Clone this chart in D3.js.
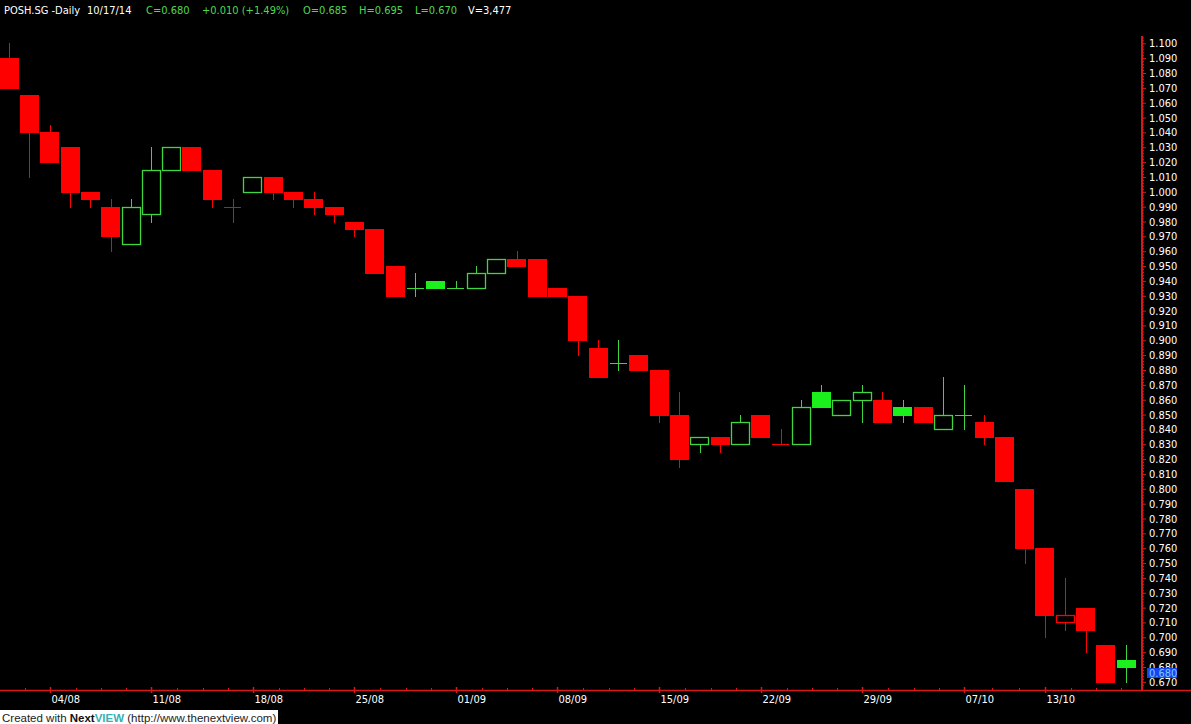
<!DOCTYPE html>
<html>
<head>
<meta charset="utf-8">
<script src="https://cdn.jsdelivr.net/npm/d3@7"></script>
<style>
  html, body { margin: 0; padding: 0; background: #000; overflow: hidden; }
  svg { display: block; }
  text { font-family: "DejaVu Sans Condensed", "DejaVu Sans", sans-serif; font-stretch: condensed; }
  text.foot { font-family: "Liberation Sans", Arial, sans-serif; font-stretch: normal; }
</style>
</head>
<body>
<svg width="1191" height="724"></svg>
<script>
// daily candles POSH.SG, 31/07 - 17/10
var dates = ['31/07','01/08','04/08','05/08','06/08','07/08','08/08',
  '11/08','12/08','13/08','14/08','15/08','18/08','19/08','20/08','21/08','22/08',
  '25/08','26/08','27/08','28/08','29/08','01/09','02/09','03/09','04/09','05/09',
  '08/09','09/09','10/09','11/09','12/09','15/09','16/09','17/09','18/09','19/09',
  '22/09','23/09','24/09','25/09','26/09','29/09','30/09','01/10','02/10','03/10',
  '07/10','08/10','09/10','10/10','13/10','14/10','15/10','16/10','17/10'];

var opens = [1.090,1.065,1.040,1.030,1.000,0.990,0.965,
  0.985,1.015,1.030,1.015,0.990,1.000,1.010,1.000,0.995,0.990,
  0.980,0.975,0.950,0.935,0.940,0.935,0.935,0.945,0.955,0.955,
  0.935,0.930,0.895,0.885,0.890,0.880,0.850,0.830,0.835,0.830,
  0.850,0.830,0.830,0.865,0.850,0.860,0.860,0.855,0.855,0.840,
  0.850,0.845,0.835,0.800,0.760,0.710,0.720,0.695,0.685];

var highs = [1.100,1.065,1.045,1.030,1.000,0.995,0.995,
  1.030,1.030,1.030,1.015,0.995,1.010,1.010,1.000,1.000,0.990,
  0.980,0.975,0.950,0.945,0.940,0.940,0.950,0.955,0.960,0.955,
  0.935,0.930,0.900,0.900,0.890,0.880,0.865,0.835,0.835,0.850,
  0.850,0.840,0.860,0.870,0.860,0.870,0.865,0.860,0.855,0.875,
  0.870,0.850,0.835,0.800,0.760,0.740,0.720,0.695,0.695];

var lows = [1.070,1.010,1.020,0.990,0.990,0.960,0.965,
  0.980,1.015,1.015,0.990,0.980,1.000,0.995,0.990,0.985,0.980,
  0.970,0.945,0.930,0.930,0.935,0.935,0.935,0.945,0.950,0.930,
  0.930,0.890,0.875,0.880,0.880,0.845,0.815,0.825,0.825,0.830,
  0.835,0.830,0.830,0.855,0.850,0.845,0.845,0.845,0.845,0.840,
  0.840,0.830,0.805,0.750,0.700,0.705,0.690,0.670,0.670];

var closes = [1.070,1.040,1.020,1.000,0.995,0.970,0.990,
  1.015,1.030,1.015,0.995,0.990,1.010,1.000,0.995,0.990,0.985,
  0.975,0.945,0.930,0.935,0.935,0.935,0.945,0.955,0.950,0.930,
  0.930,0.900,0.875,0.885,0.880,0.850,0.820,0.835,0.830,0.845,
  0.835,0.830,0.855,0.855,0.860,0.865,0.845,0.850,0.845,0.850,
  0.850,0.835,0.805,0.760,0.715,0.715,0.705,0.670,0.680];

var xTickLabels = ['04/08','11/08','18/08','25/08','01/09','08/09','15/09',
  '22/09','29/09','07/10','13/10'];

var yTicks = [1.100,1.090,1.080,1.070,1.060,1.050,1.040,1.030,1.020,1.010,1.000,
  0.990,0.980,0.970,0.960,0.950,0.940,0.930,0.920,0.910,0.900,
  0.890,0.880,0.870,0.860,0.850,0.840,0.830,0.820,0.810,0.800,
  0.790,0.780,0.770,0.760,0.750,0.740,0.730,0.720,0.710,0.700,
  0.690,0.680,0.670];

var headerParts = ['POSH.SG -Daily','10/17/14','C=0.680','+0.010 (+1.49%)',
  'O=0.685','H=0.695','L=0.670','V=3,477'];
var lastPrice = 0.680;

var RED = '#ff0000', GREEN_FILL = '#1cf01c', GREEN_LINE = '#3fd63f',
    AXIS = '#d81818';

var svg = d3.select('svg');

// candle colour: up vs previous close, same colour as before when unchanged
var candles = dates.map(function(d, i) {
  return {date: d, o: opens[i], h: highs[i], l: lows[i], c: closes[i]};
});
candles.forEach(function(d, i) {
  if (i === 0) d.up = false;
  else if (d.c > candles[i - 1].c) d.up = true;
  else if (d.c < candles[i - 1].c) d.up = false;
  else d.up = candles[i - 1].up;
});

var x = d3.scaleBand().domain(dates).range([-1.05, 1136.3])
    .paddingInner(0.07).paddingOuter(0.035);
var y = d3.scaleLinear().domain([0.67, 1.10]).range([681.85, 43.3]);

function cx(d) { return Math.round(x(d) + x.bandwidth() / 2) + 0.5; }

// x axis
var xAxisY = 690;
svg.append('line')
    .attr('x1', 0).attr('x2', 1191)
    .attr('y1', xAxisY + 0.5).attr('y2', xAxisY + 0.5)
    .attr('stroke', AXIS).attr('stroke-width', 1.5);

// minor ticks: quarter steps between the week ticks
var majorX = xTickLabels.map(function(d) { return cx(d); });
var minorX = [];
var q = (majorX[1] - majorX[0]) / 4;
for (var m = majorX[0] - q; m > 0; m -= q) minorX.push(m);
for (var k = 0; k < majorX.length - 1; k++) {
  var n = Math.round((majorX[k + 1] - majorX[k]) / q);
  for (var j = 1; j < n; j++) minorX.push(majorX[k] + (majorX[k + 1] - majorX[k]) * j / n);
}
for (var m2 = majorX[majorX.length - 1] + q; m2 < 1140; m2 += q) minorX.push(m2);

svg.append('g').selectAll('line')
  .data(minorX)
  .enter().append('line')
    .attr('x1', function(d) { return Math.round(d) + 0.5; })
    .attr('x2', function(d) { return Math.round(d) + 0.5; })
    .attr('y1', xAxisY - 2).attr('y2', xAxisY + 1)
    .attr('stroke', AXIS);

var gx = svg.append('g')
    .attr('transform', 'translate(0,' + xAxisY + ')')
    .call(d3.axisBottom(x).tickValues(xTickLabels).tickSize(3).tickPadding(2));
gx.select('.domain').remove();
gx.selectAll('.tick')
    .attr('transform', function(d) { return 'translate(' + cx(d) + ',0)'; });
gx.selectAll('.tick line').attr('stroke', AXIS).attr('y1', -3).attr('stroke-width', 1.5);
gx.selectAll('.tick text')
    .attr('fill', '#fff').attr('text-anchor', 'start').attr('x', 1)
    .style('font-family', null).style('font-size', '11px');

// y axis
var yAxisX = 1142;
svg.append('line')
    .attr('x1', yAxisX).attr('x2', yAxisX)
    .attr('y1', 36).attr('y2', xAxisY)
    .attr('stroke', AXIS).attr('stroke-width', 2);

var gyMinor = svg.append('g')
    .attr('transform', 'translate(' + yAxisX + ',0)')
    .call(d3.axisRight(y).tickValues(d3.range(0.668, 1.105, 0.002)).tickSize(2).tickFormat(''));
gyMinor.select('.domain').remove();
gyMinor.selectAll('.tick line').attr('stroke', AXIS);

var gy = svg.append('g')
    .attr('transform', 'translate(' + yAxisX + ',0)')
    .call(d3.axisRight(y).tickValues(yTicks).tickSize(4).tickPadding(3).tickFormat(d3.format('.3f')));
gy.select('.domain').remove();
gy.selectAll('.tick line').attr('stroke', AXIS);
gy.selectAll('.tick text').attr('fill', '#fff').style('font-size', '11px');
svg.selectAll('.tick text').attr('font-family', null);

// last price marker
var lp = svg.append('g').attr('transform', 'translate(1147,' + Math.round(y(lastPrice) + 1) + ')');
lp.append('rect').attr('width', 30).attr('height', 10).attr('fill', '#1446f0');
lp.append('text').attr('x', 2).attr('y', 5).attr('dy', '0.36em')
    .attr('fill', '#7cc8ff').style('font-size', '11px')
    .text(d3.format('.3f')(lastPrice));

// candles
var g = svg.append('g').attr('class', 'candles');

g.selectAll('.wick')
  .data(candles)
  .enter().append('line')
    .attr('class', 'wick')
    .attr('x1', function(d) { return cx(d.date); })
    .attr('x2', function(d) { return cx(d.date); })
    .attr('y1', function(d) { return Math.round(y(d.h)); })
    .attr('y2', function(d) { return Math.round(y(d.l)) + 1; })
    .attr('stroke', function(d) { return d.up ? GREEN_LINE : RED; });

// open == close: flat line
g.selectAll('.doji')
  .data(candles.filter(function(d) { return d.o === d.c; }))
  .enter().append('line')
    .attr('class', 'doji')
    .attr('x1', function(d) { return Math.round(x(d.date)) + 1; })
    .attr('x2', function(d) { return Math.round(x(d.date) + x.bandwidth()) - 1; })
    .attr('y1', function(d) { return Math.round(y(d.c)) + 0.5; })
    .attr('y2', function(d) { return Math.round(y(d.c)) + 0.5; })
    .attr('stroke', function(d) { return d.up ? GREEN_LINE : RED; });

// close < open: filled body
g.selectAll('.solid')
  .data(candles.filter(function(d) { return d.c < d.o; }))
  .enter().append('rect')
    .attr('class', 'solid')
    .attr('x', function(d) { return Math.round(x(d.date)); })
    .attr('y', function(d) { return Math.round(y(d.o)); })
    .attr('width', Math.round(x.bandwidth()))
    .attr('height', function(d) { return Math.round(y(d.c)) - Math.round(y(d.o)) + 1; })
    .attr('fill', function(d) { return d.up ? GREEN_FILL : RED; })
    .attr('shape-rendering', 'crispEdges');

// close > open: hollow body
g.selectAll('.hollow')
  .data(candles.filter(function(d) { return d.c > d.o; }))
  .enter().append('rect')
    .attr('class', 'hollow')
    .attr('x', function(d) { return Math.round(x(d.date)) + 0.5; })
    .attr('y', function(d) { return Math.round(y(d.c)) + 0.5; })
    .attr('width', Math.round(x.bandwidth()) - 1)
    .attr('height', function(d) { return Math.round(y(d.o)) - Math.round(y(d.c)); })
    .attr('fill', '#000')
    .attr('stroke', function(d) { return d.up ? GREEN_LINE : RED; })
    .attr('stroke-width', 1.3);

// header line
var headerX = [4, 87, 146, 202, 303, 359, 415, 468];
var headerColor = ['#fff', '#fff', '#4fd84f', '#4fd84f', '#4fd84f', '#4fd84f', '#4fd84f', '#fff'];
svg.append('g').selectAll('text')
  .data(headerParts)
  .enter().append('text')
    .attr('x', function(d, i) { return headerX[i]; })
    .attr('y', 14)
    .attr('fill', function(d, i) { return headerColor[i]; })
    .style('font-size', '11px')
    .text(function(d) { return d; });

// footer
var foot = svg.append('g').attr('transform', 'translate(0,710)');
foot.append('rect').attr('width', 278).attr('height', 14).attr('fill', '#fff');
var ft = foot.append('text').attr('class', 'foot').attr('x', 2).attr('y', 11.5)
    .attr('fill', '#222').style('font-size', '11.5px');
ft.append('tspan').text('Created with ');
ft.append('tspan').attr('font-weight', 'bold').attr('fill', '#111').text('Next');
ft.append('tspan').attr('font-weight', 'bold').attr('fill', '#3aaeb4').text('VIEW');
ft.append('tspan').text(' (http://www.thenextview.com)');
</script>
</body>
</html>
